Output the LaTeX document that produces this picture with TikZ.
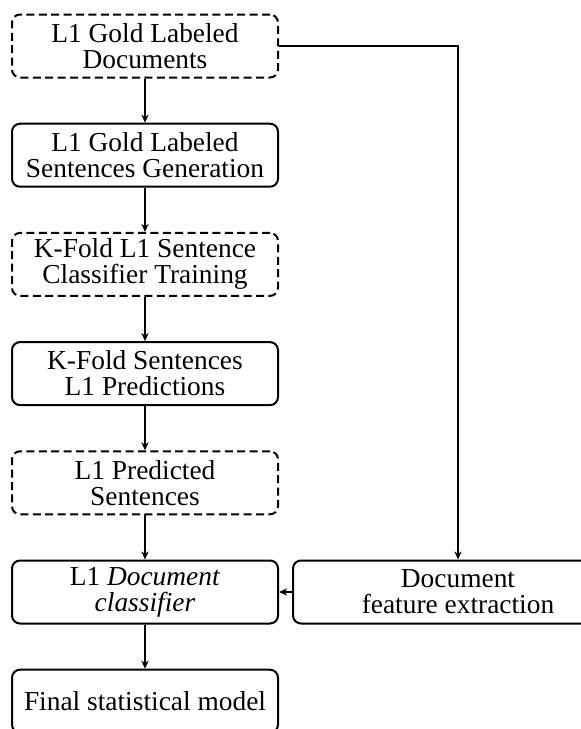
\documentclass[tikz,border=0pt]{standalone}
\usepackage{fontspec}
\setmainfont{Liberation Serif}
\usetikzlibrary{positioning, arrows.meta}
\tikzstyle{stage}=[rectangle, rounded corners=4pt, draw=black, line width=1pt, minimum width=133pt, minimum height=31.5pt, align=center, inner sep=1pt, font=\fontsize{13.7}{13}\selectfont]
\tikzstyle{data}=[stage, dash pattern=on 4pt off 2.2pt]
\tikzstyle{flow}=[-{Stealth[length=4pt,width=3.6pt,inset=1.2pt]}, line width=0.6pt]

\begin{document}
\begin{tikzpicture}[node distance=22.1pt]
            \useasboundingbox (0,0) rectangle (290pt,-364.5pt);
            %left column, top to bottom
            \node[data] (s0) at (72.5pt,-23pt) {L1 Gold Labeled\\Documents};
            \node[stage, below = of s0] (s1) {L1 Gold Labeled\\Sentences Generation};
            \node[data, below = of s1] (s2) {K-Fold L1 Sentence\\Classifier Training};
            \node[stage, below = of s2] (s3) {K-Fold Sentences\\L1 Predictions};
            \node[data, below = of s3] (s4) {L1 Predicted\\Sentences};
            \node[stage, below = of s4] (s5) {L1 \textit{Document}\\\textit{classifier}};
            \node[stage, below = of s5] (s6) {Final statistical model};
            \foreach \n in {0,...,5}{
                \pgfmathtruncatemacro\npp{\n +1}
                \draw[flow] (s\n) to (s\npp);
            }
            %document features on the right
            \node[stage, minimum width=165pt, right = 6.5pt of s5] (feat) {Document\\feature extraction};
            \draw[flow] (s0.east) -| (feat.north);
            \draw[flow] (feat) to (s5);
        \end{tikzpicture}
\end{document}
